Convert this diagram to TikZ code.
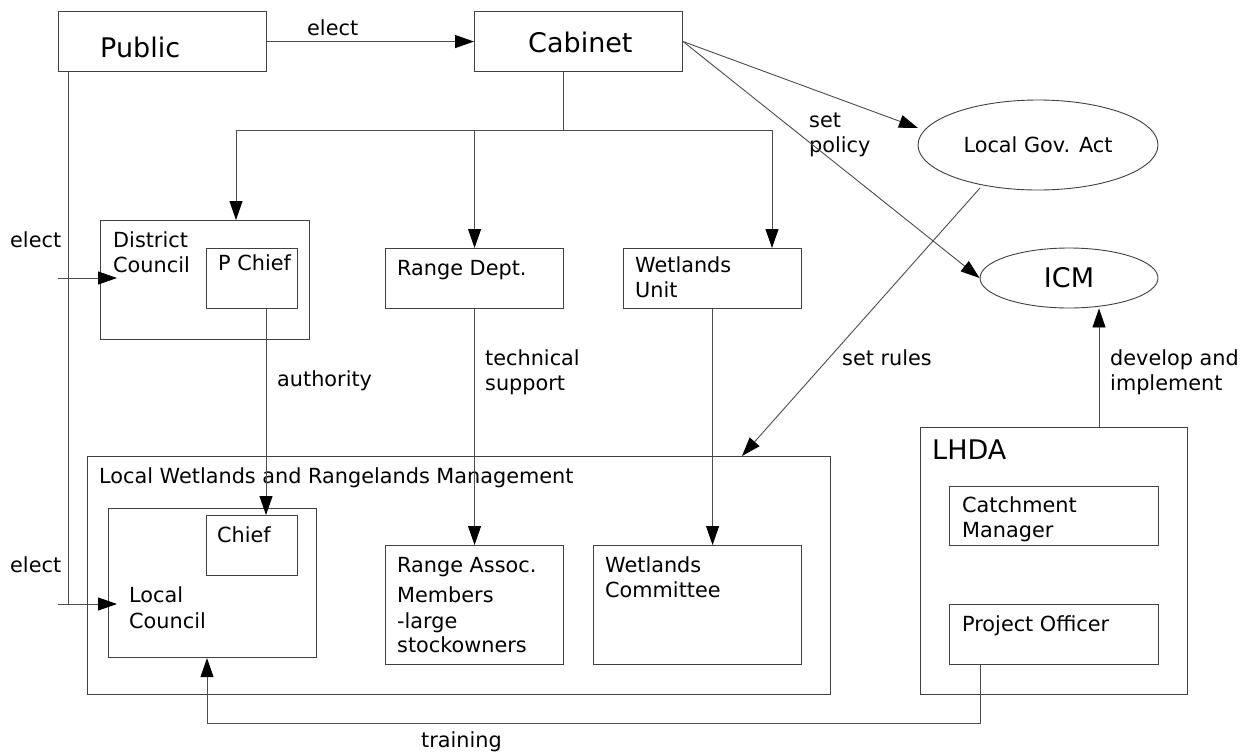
\documentclass[tikz,border=0pt]{standalone}
\usepackage{fontspec}
\setmainfont{DejaVu Sans}
\usetikzlibrary{arrows.meta,shapes.geometric}
\begin{document}
\begin{tikzpicture}[x=1pt,y=-1pt,
  box/.style={draw=black!75,line width=1.1pt,rectangle,inner sep=0pt,anchor=north west},
  oval/.style={draw=black!75,line width=0.9pt,ellipse,inner sep=0pt,font=\fontsize{20.8}{24}\selectfont},
  lbl/.style={anchor=base west,inner sep=0pt,font=\fontsize{20.8}{24}\selectfont},
  big/.style={anchor=base west,inner sep=0pt,font=\fontsize{27}{32}\selectfont},
  conn/.style={draw=black!70,line width=0.9pt},
  arr/.style={conn,-{Triangle[length=19pt,width=13pt,color=black]}},
]
\fill[white] (0,0) rectangle (1246,753);
\useasboundingbox (0,0) rectangle (1246,753);

% boxes
\node[box,minimum width=208pt,minimum height=60pt] (pub) at (58,11) {};
\node[box,minimum width=208pt,minimum height=60pt] (cab) at (474,11) {};
\node[box,minimum width=209pt,minimum height=119pt] (dc) at (100,220) {};
\node[box,minimum width=91pt,minimum height=60pt] (pc) at (206,248) {};
\node[box,minimum width=178pt,minimum height=60pt] (rd) at (385,248) {};
\node[box,minimum width=178pt,minimum height=60pt] (wu) at (623,248) {};
\node[box,minimum width=743pt,minimum height=238pt] (lw) at (87,456) {};
\node[box,minimum width=208pt,minimum height=149pt] (lc) at (108,508) {};
\node[box,minimum width=91pt,minimum height=60pt] (ch) at (206,515) {};
\node[box,minimum width=178pt,minimum height=119pt] (ra) at (385,545) {};
\node[box,minimum width=208pt,minimum height=119pt] (wc) at (593,545) {};
\node[box,minimum width=267pt,minimum height=267pt] (lhda) at (920,427) {};
\node[box,minimum width=209pt,minimum height=59pt] (cm) at (949,486) {};
\node[box,minimum width=209pt,minimum height=60pt] (po) at (949,604) {};
\node[oval,minimum width=240pt,minimum height=90pt] (lga) at (1038,145) {Local Gov. Act};
\node[oval,minimum width=178pt,minimum height=60pt,font=\fontsize{27}{32}\selectfont] (icm) at (1069,278) {ICM};

% texts
\node[big] (tpub) at (100,57) {Public};
\node[big] (tcab) at (528,52) {Cabinet};
\node[lbl] (telect) at (307,35) {elect};
\node[lbl] (tdc1) at (113,247) {District};
\node[lbl] (tdc2) at (113,272) {Council};
\node[lbl] (tpc) at (218,270) {P Chief};
\node[lbl] (trd) at (397,275) {Range Dept.};
\node[lbl] (twu1) at (635,272) {Wetlands};
\node[lbl] (twu2) at (635,297) {Unit};
\node[lbl] (te1) at (10,247) {elect};
\node[lbl] (te2) at (10,572) {elect};
\node[lbl] (tauth) at (277,386) {authority};
\node[lbl] (tts1) at (485,365) {technical};
\node[lbl] (tts2) at (485,390) {support};
\node[lbl] (tsp1) at (809,127) {set};
\node[lbl] (tsp2) at (809,152) {policy};
\node[lbl] (tsr) at (842,365) {set rules};
\node[lbl] (tdi1) at (1110,365) {develop and};
\node[lbl] (tdi2) at (1110,390) {implement};
\node[big] (tlhda) at (932,459) {LHDA};
\node[lbl] (tlw) at (99,483) {Local Wetlands and Rangelands Management};
\node[lbl] (tch) at (217,542) {Chief};
\node[lbl] (tlc1) at (129,602) {Local};
\node[lbl] (tlc2) at (129,628) {Council};
\node[lbl] (tra1) at (397,572) {Range Assoc.};
\node[lbl] (tra2) at (397,602) {Members};
\node[lbl] (tra3) at (397,628) {-large};
\node[lbl] (tra4) at (397,652) {stockowners};
\node[lbl] (twc1) at (605,572) {Wetlands};
\node[lbl] (twc2) at (605,597) {Committee};
\node[lbl] (tcm1) at (962,512) {Catchment};
\node[lbl] (tcm2) at (962,537) {Manager};
\node[lbl] (tpo) at (962,631) {Project Officer};
\node[lbl] (ttr) at (421,747) {training};

% coordinates
\coordinate (br) at (563,130);
\coordinate (b1) at (236,130);
\coordinate (b3) at (772,130);
\coordinate (lgaIn) at (918,128);
\coordinate (lgaS) at (980,188);
\coordinate (lwT) at (742,456);
\coordinate (dix) at (1099,0);
\coordinate (pcx) at (266,0);
\coordinate (pv) at (68,604);
\coordinate (e1s) at (58,278);
\coordinate (e1t) at (117,278);
\coordinate (e2s) at (58,604);
\coordinate (e2t) at (117,604);
\coordinate (tr1) at (980,723);
\coordinate (tr2) at (207,723);

% connectors
\draw[arr] (pub) -- (cab);
\draw[conn] (cab.south -| br) -- (br);
\draw[arr] (br) -- (b1) -- (dc.north -| b1);
\draw[arr] (br -| rd.north) -- (rd.north);
\draw[arr] (br) -- (b3) -- (wu.north -| b3);
\draw[arr] (cab.east) -- (lgaIn);
\draw[arr] (cab.east) -- (icm.west);
\draw[arr] (lgaS) -- (lwT);
\draw[arr] (lhda.north -| dix) -- (icm.south -| dix);
\draw[arr] (pc.south -| pcx) -- (ch.north -| pcx);
\draw[arr] (rd.south) -- (ra.north);
\draw[arr] (wu.south) -- (wc.north -| wu.south);
\draw[conn] (pub.south -| pv) -- (pv);
\draw[arr] (e1s) -- (e1t);
\draw[arr] (e2s) -- (e2t);
\draw[arr] (po.south -| tr1) -- (tr1) -- (tr2) -- (lc.south -| tr2);
\end{tikzpicture}
\end{document}
